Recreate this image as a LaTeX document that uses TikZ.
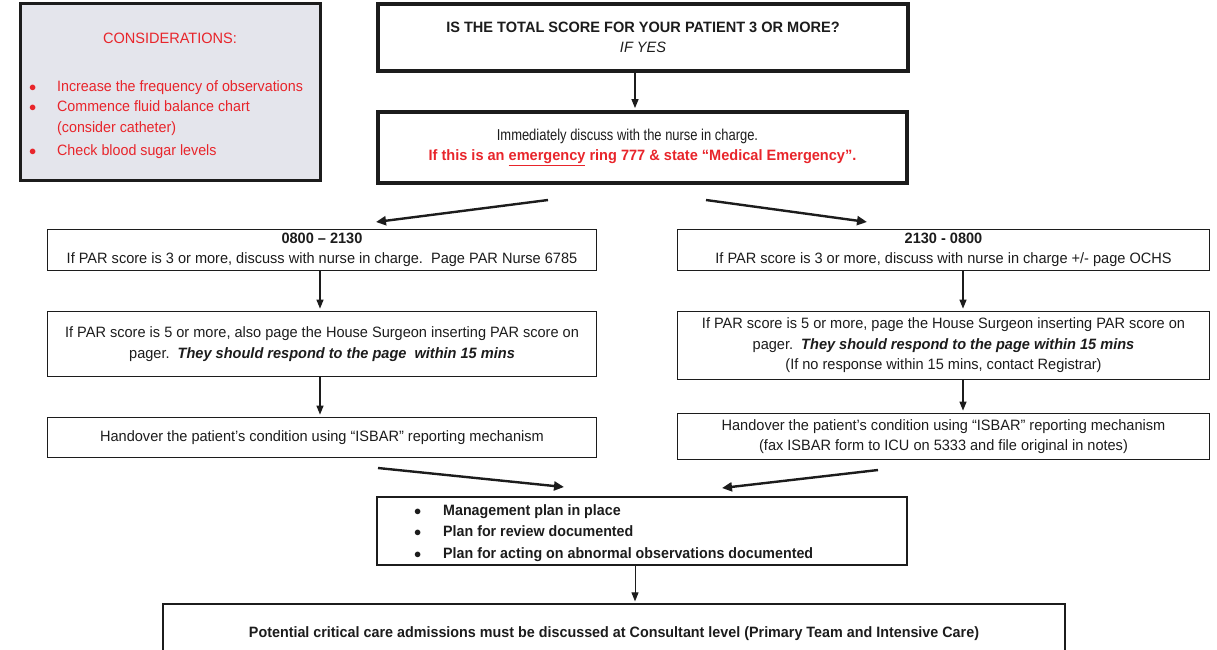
\documentclass[tikz,border=0pt]{standalone}
\usepackage{fontspec}
\usepackage{graphicx}
\setmainfont{Liberation Sans}[FakeStretch=0.97]
\usetikzlibrary{arrows.meta,calc}
\definecolor{redtxt}{HTML}{E8252B}
\definecolor{ink}{HTML}{1C1C1C}
\definecolor{consfill}{HTML}{E4E5EC}
\tikzset{
  thickbox/.style={draw=ink, line width=3.8pt, inner sep=0pt, align=center, text=ink},
  thinbox/.style={draw=ink, line width=1.8pt, inner sep=0pt, align=center, text=ink},
  hairbox/.style={draw=ink, line width=1.3pt, inner sep=0pt, align=center, text=ink},
  varrow/.style={draw=ink, line width=1.3pt, -{Triangle[length=9pt,width=7pt]}, shorten >=2pt},
  darrow/.style={draw=ink, line width=2.4pt, -{Triangle[length=10pt,width=9pt]}},
  redt/.style={text=redtxt, inner sep=0pt},
  mtext/.style={inner sep=0pt, anchor=mid west, text=ink, font=\fontsize{15}{20.5}\selectfont\bfseries},
}
\begin{document}
\begin{tikzpicture}[x=1pt,y=-1pt, font=\fontsize{15}{20.5}\selectfont]
\useasboundingbox (0,0) rectangle (1217,649);
% considerations
\node[draw=ink, line width=2.8pt, fill=consfill, minimum width=300pt, minimum height=177pt, inner sep=0pt] (cons) at (170.5,92) {};
\node[redt] (ctitle) at (170,38) {CONSIDERATIONS:};
\node[redt, anchor=mid west] (cb1) at (29,89) {$\bullet$};
\node[redt, anchor=mid west] (ct1) at (57,89) {\scalebox{0.98}[1]{Increase the frequency of observations}};
\node[redt, anchor=mid west] (cb2) at (29,109) {$\bullet$};
\node[redt, anchor=mid west] (ct2) at (57,109) {\scalebox{0.98}[1]{Commence fluid balance chart}};
\node[redt, anchor=mid west] (ct2b) at (57,130) {\scalebox{0.98}[1]{(consider catheter)}};
\node[redt, anchor=mid west] (cb3) at (29,153) {$\bullet$};
\node[redt, anchor=mid west] (ct3) at (57,153) {\scalebox{0.98}[1]{Check blood sugar levels}};
% top
\node[thickbox, minimum width=530pt, minimum height=67pt] (top) at (643,37.5)
  {\textbf{IS THE TOTAL SCORE FOR YOUR PATIENT 3 OR MORE?}\\\textit{IF YES}};
\node[thickbox, minimum width=529pt, minimum height=71pt] (imm) at (642.5,147.5)
  {\scalebox{0.89}[1.05]{Immediately discuss with the nurse in charge.}\hspace*{30pt}\\
   \textcolor{redtxt}{\textbf{If this is an \underline{emergency} ring 777 \& state “Medical Emergency”.}}};
\coordinate (cx) at (635,0);
\draw[varrow] (top.south -| cx) -- (imm.north -| cx);
% left column
\node[thinbox, minimum width=549pt, minimum height=41pt] (l1) at (322,250)
  {\textbf{0800 – 2130}\\If PAR score is 3 or more, discuss with nurse in charge.\ \ Page PAR Nurse 6785};
\node[thinbox, minimum width=549pt, minimum height=65pt] (l2) at (322,344)
  {If PAR score is 5 or more, also page the House Surgeon inserting PAR score on\\
   pager.\ \ \textbf{\textit{They should respond to the page\ \ within 15 mins}}};
\node[thinbox, minimum width=549pt, minimum height=40pt] (l3) at (322,437.5)
  {Handover the patient’s condition using “ISBAR” reporting mechanism};
\coordinate (lx) at (320,0);
\draw[varrow] (l1.south -| lx) -- (l2.north -| lx);
\draw[varrow] (l2.south -| lx) -- (l3.north -| lx);
% right column
\node[thinbox, minimum width=532pt, minimum height=41pt] (r1) at (943.5,250)
  {\textbf{2130 - 0800}\\If PAR score is 3 or more, discuss with nurse in charge +/- page OCHS};
\node[thinbox, minimum width=532pt, minimum height=68pt] (r2) at (943.5,345.5)
  {If PAR score is 5 or more, page the House Surgeon inserting PAR score on\\
   pager.\ \ \textbf{\textit{They should respond to the page within 15 mins}}\\
   (If no response within 15 mins, contact Registrar)};
\node[thinbox, minimum width=532pt, minimum height=46pt] (r3) at (943.5,436.5)
  {Handover the patient’s condition using “ISBAR” reporting mechanism\\
   (fax ISBAR form to ICU on 5333 and file original in notes)};
\coordinate (rx) at (963,0);
\draw[varrow] (r1.south -| rx) -- (r2.north -| rx);
\draw[varrow] (r2.south -| rx) -- (r3.north -| rx);
% diagonal arrows top
\coordinate (dl0) at (548,200);
\coordinate (dl1) at (376,222);
\coordinate (dr0) at (706,200);
\coordinate (dr1) at (867,222);
\draw[darrow] (dl0) -- (dl1);
\draw[darrow] (dr0) -- (dr1);
% management
\node[hairbox, minimum width=530pt, minimum height=68pt] (mg) at (642,531) {};
\node[mtext] (mb1) at (414,513) {$\bullet$};
\node[mtext] (mt1) at (443,513) {\scalebox{0.98}[1]{Management plan in place}};
\node[mtext] (mb2) at (414,534) {$\bullet$};
\node[mtext] (mt2) at (443,534) {\scalebox{0.98}[1]{Plan for review documented}};
\node[mtext] (mb3) at (414,556) {$\bullet$};
\node[mtext] (mt3) at (443,556) {\scalebox{0.98}[1]{Plan for acting on abnormal observations documented}};
% diagonal arrows bottom
\coordinate (el0) at (378,468);
\coordinate (el1) at (564,487);
\coordinate (er0) at (878,470);
\coordinate (er1) at (722,488);
\draw[darrow] (el0) -- (el1);
\draw[darrow] (er0) -- (er1);
% bottom
\node[hairbox, minimum width=902pt, minimum height=70pt] (bot) at (614,639) {};
\node[inner sep=0pt, text=ink] (bt) at (614,634) {\scalebox{0.985}[1]{\textbf{Potential critical care admissions must be discussed at Consultant level (Primary Team and Intensive Care)}}};
\draw[varrow, line width=0.9pt] (mg.south -| cx) -- (bot.north -| cx);
\end{tikzpicture}
\end{document}
